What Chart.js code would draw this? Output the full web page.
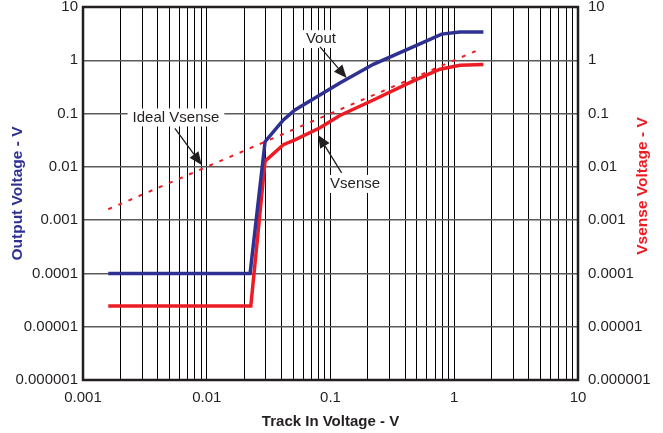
<!DOCTYPE html>
<html>
<head>
<meta charset="utf-8">
<script src="https://cdn.jsdelivr.net/npm/chart.js@4"></script>
<style>
  html, body { margin: 0; padding: 0; background: #ffffff; }
  #wrap { width: 663px; height: 433px; }
</style>
</head>
<body>
<div id="wrap"><canvas id="c" width="663" height="433"></canvas></div>
<script>
// ---- data ----
const voutX = [0.0016, 0.0224, 0.0296, 0.0416, 0.0516, 0.119, 0.222, 0.562, 0.791, 1.11, 1.72];
const voutY = [0.0001, 0.0001, 0.0297, 0.0759, 0.117, 0.375, 0.84, 2.16, 3.1, 3.4, 3.4];

const vsenseX = [0.0016, 0.0227, 0.0296, 0.0416, 0.0516, 0.0822, 0.119, 0.222, 0.467, 0.767, 1.11, 1.72];
const vsenseY = [0.0000245, 0.0000245, 0.0128, 0.026, 0.032, 0.054, 0.092, 0.18, 0.41, 0.68, 0.81, 0.83];

const idealX = [0.0016, 1.6];
const idealY = [0.0016, 1.6];

const xTickLabels = ['0.001', '0.01', '0.1', '1', '10'];
const yTickLabels = ['0.000001', '0.00001', '0.0001', '0.001', '0.01', '0.1', '1', '10'];

// annotation texts and anchor points (data coordinates)
const noteTexts = ['Vout', 'Vsense', 'Ideal Vsense'];
const noteLabelAt = [[0.0837, 2.5], [0.158, 0.00478], [0.00564, 0.0845]];
const noteArrowFrom = [[0.0822, 1.78], [0.123, 0.0077], [0.00553, 0.053]];
const noteArrowTo = [[0.135, 0.466], [0.0793, 0.0398], [0.0091, 0.01086]];

// ---- helpers ----
const pts = (xs, ys) => xs.map((x, i) => ({ x: x, y: ys[i] }));
const xMajor = xTickLabels.map(Number);
const yMajor = yTickLabels.map(Number);
const xGridVals = [];
for (let d = 0; d < xMajor.length - 1; d++) {
  for (let m = 1; m <= 9; m++) xGridVals.push(m * xMajor[d]);
}
xGridVals.push(xMajor[xMajor.length - 1]);
const labelForX = v => { const i = xMajor.findIndex(m => Math.abs(v / m - 1) < 1e-9); return i >= 0 ? xTickLabels[i] : ''; };
const labelForY = v => { const i = yMajor.findIndex(m => Math.abs(v / m - 1) < 1e-9); return i >= 0 ? yTickLabels[i] : ''; };

const FONT = '"Liberation Sans", Arial, Helvetica, sans-serif';
const BLUE = '#2e3192';
const RED = '#ed1c24';

const L = { left: 83, right: 578, top: 7, bottom: 380, W: 663, H: 433 };

const framePlugin = {
  id: 'frameAndNotes',
  afterDraw(chart) {
    const ctx = chart.ctx;
    const a = chart.chartArea;
    const sx = chart.scales.x, sy = chart.scales.y;
    ctx.save();
    // frame
    ctx.strokeStyle = '#231f20';
    ctx.lineWidth = 2.5;
    ctx.strokeRect(a.left, a.top, a.right - a.left, a.bottom - a.top);

    // annotations
    ctx.font = '15px ' + FONT;
    ctx.textAlign = 'center';
    ctx.textBaseline = 'middle';
    for (let i = 0; i < noteTexts.length; i++) {
      const lx = sx.getPixelForValue(noteLabelAt[i][0]);
      const ly = sy.getPixelForValue(noteLabelAt[i][1]);
      const w = ctx.measureText(noteTexts[i]).width;
      ctx.fillStyle = '#ffffff';
      ctx.fillRect(lx - w / 2 - 5, ly - 9, w + 10, 18);
      ctx.fillStyle = '#231f20';
      ctx.fillText(noteTexts[i], lx, ly);

      const x0 = sx.getPixelForValue(noteArrowFrom[i][0]);
      const y0 = sy.getPixelForValue(noteArrowFrom[i][1]);
      const x1 = sx.getPixelForValue(noteArrowTo[i][0]);
      const y1 = sy.getPixelForValue(noteArrowTo[i][1]);
      const ang = Math.atan2(y1 - y0, x1 - x0);
      const hl = 13, hw = 5.5;
      const bx = x1 - hl * Math.cos(ang), by = y1 - hl * Math.sin(ang);
      ctx.strokeStyle = '#231f20';
      ctx.lineWidth = 1.3;
      ctx.beginPath();
      ctx.moveTo(x0, y0);
      ctx.lineTo(bx, by);
      ctx.stroke();
      ctx.beginPath();
      ctx.moveTo(x1, y1);
      ctx.lineTo(bx + hw * Math.sin(ang), by - hw * Math.cos(ang));
      ctx.lineTo(bx - hw * Math.sin(ang), by + hw * Math.cos(ang));
      ctx.closePath();
      ctx.fillStyle = '#231f20';
      ctx.fill();
    }

    // right axis title (reads bottom-to-top)
    ctx.save();
    ctx.translate(643, 186);
    ctx.rotate(-Math.PI / 2);
    ctx.font = 'bold 15.5px ' + FONT;
    ctx.fillStyle = RED;
    ctx.textAlign = 'center';
    ctx.textBaseline = 'middle';
    ctx.fillText('Vsense Voltage - V', 0, 0);
    ctx.restore();
    ctx.restore();
  }
};

new Chart(document.getElementById('c'), {
  type: 'line',
  data: {
    datasets: [
      { label: 'Vout', data: pts(voutX, voutY), borderColor: BLUE, borderWidth: 3.5, pointRadius: 0, yAxisID: 'y', tension: 0 },
      { label: 'Vsense', data: pts(vsenseX, vsenseY), borderColor: RED, borderWidth: 3.5, pointRadius: 0, yAxisID: 'y2', tension: 0 },
      { label: 'Ideal Vsense', data: pts(idealX, idealY), borderColor: RED, borderWidth: 2, borderDash: [4, 7], pointRadius: 0, yAxisID: 'y2', tension: 0 }
    ]
  },
  options: {
    responsive: false,
    animation: false,
    devicePixelRatio: 1,
    layout: { padding: { top: L.top, left: 0, right: 0, bottom: 0 } },
    plugins: { legend: { display: false }, tooltip: { enabled: false } },
    scales: {
      x: {
        type: 'logarithmic',
        position: 'bottom',
        min: xMajor[0], max: xMajor[xMajor.length - 1],
        afterBuildTicks: s => { s.ticks = xGridVals.map(v => ({ value: v })); },
        afterFit: s => { s.height = L.H - L.bottom; s.paddingLeft = 0; s.paddingRight = 0; },
        ticks: {
          autoSkip: false, maxRotation: 0, minRotation: 0, padding: 9,
          color: '#231f20', font: { family: FONT, size: 15 },
          callback: v => labelForX(v)
        },
        grid: { color: '#000000', lineWidth: 1, drawTicks: false },
        border: { display: false },
        title: { display: true, text: 'Track In Voltage - V', color: '#231f20', font: { family: FONT, size: 15, weight: 'bold' }, padding: { top: 0, bottom: 2 } }
      },
      y: {
        type: 'logarithmic',
        position: 'left',
        min: yMajor[0], max: yMajor[yMajor.length - 1],
        afterBuildTicks: s => { s.ticks = yMajor.map(v => ({ value: v })); },
        afterFit: s => { s.width = L.left; s.paddingTop = 0; s.paddingBottom = 0; },
        ticks: {
          autoSkip: false, padding: 5,
          color: '#231f20', font: { family: FONT, size: 15 },
          callback: v => labelForY(v)
        },
        grid: { color: '#5a5a5a', lineWidth: 1.5, drawTicks: false },
        border: { display: false },
        title: { display: true, text: 'Output Voltage - V', color: BLUE, font: { family: FONT, size: 15.5, weight: 'bold' }, padding: { top: 8, bottom: 0 } }
      },
      y2: {
        type: 'logarithmic',
        position: 'right',
        min: yMajor[0], max: yMajor[yMajor.length - 1],
        afterBuildTicks: s => { s.ticks = yMajor.map(v => ({ value: v })); },
        afterFit: s => { s.width = L.W - L.right; s.paddingTop = 0; s.paddingBottom = 0; },
        ticks: {
          autoSkip: false, padding: 10,
          color: '#231f20', font: { family: FONT, size: 15 },
          callback: v => labelForY(v)
        },
        grid: { display: false, drawTicks: false },
        border: { display: false }
      }
    }
  },
  plugins: [framePlugin]
});
</script>
</body>
</html>
